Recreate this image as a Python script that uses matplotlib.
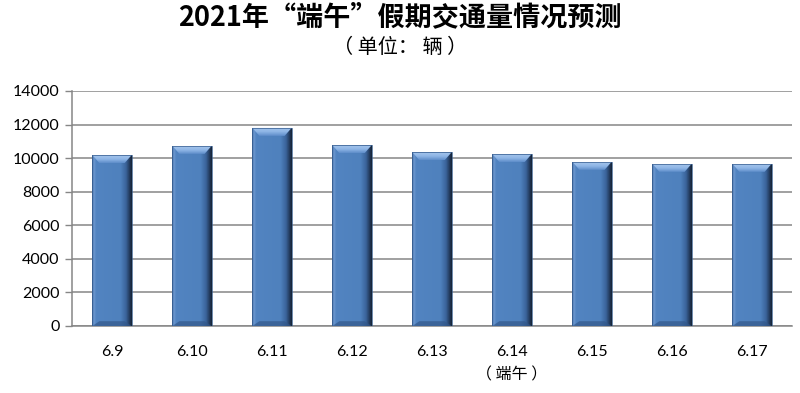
import numpy as np
import matplotlib.pyplot as plt
from matplotlib.colors import LinearSegmentedColormap
from matplotlib.patches import Polygon

plt.rcParams['font.family'] = ['Lato', 'Noto Sans CJK SC', 'DejaVu Sans']
CJK = ['Noto Sans CJK SC', 'DejaVu Sans']

# data
dates = ["6.9", "6.10", "6.11", "6.12", "6.13", "6.14", "6.15", "6.16", "6.17"]
volume = [10180, 10730, 11800, 10770, 10350, 10240, 9780, 9660, 9660]
holiday = "6.14"
holiday_note = "（ 端午 ）"
yticks = [0, 2000, 4000, 6000, 8000, 10000, 12000, 14000]

fig = plt.figure(figsize=(8, 3.93), dpi=100)
ax = fig.add_axes([0.09, 0.1705, 0.90, 0.598])

x = np.arange(len(dates))
width = 0.49
bars = ax.bar(x, volume, width=width, color="#4f81bd", edgecolor="none", zorder=3)

ax.set_xlim(-0.5, len(dates) - 0.5)
ax.set_ylim(0, 14000)
ax.set_yticks(yticks)
ax.set_xticks(x)
ax.set_xticklabels(dates, fontsize=11.5)
ax.tick_params(axis="y", labelsize=11.5, length=5, width=1, color="#868686", pad=4)
ax.tick_params(axis="x", length=0, pad=14)
ax.grid(axis="y", color="#868686", linewidth=1.1, zorder=0)
for s in ["top", "right"]:
    ax.spines[s].set_visible(False)
for s in ["left", "bottom"]:
    ax.spines[s].set_color("#868686")
    ax.spines[s].set_linewidth(1.1)

ax.annotate(holiday_note, xy=(dates.index(holiday), 0), xycoords=("data", "axes fraction"),
            xytext=(0, -35), textcoords="offset points", ha="center", va="center",
            fontsize=11.5, family=CJK)

# bevel shading for the bars
body = LinearSegmentedColormap.from_list("body", [
    (0, "#3b659c"), (0.04, "#6d98cf"), (0.1, "#5284c1"), (0.72, "#4f81bd"),
    (0.86, "#3a639a"), (0.95, "#22395a"), (1, "#162538")])
topc = LinearSegmentedColormap.from_list("topc", ["#5e8dca", "#8fb6e6", "#a4c4ec"])
bb = ax.get_window_extent()
px_x = 1.0 / (bb.width / len(dates))
px_y = 14000.0 / bb.height
bx, by = 7 * px_x, 8 * px_y
grad_h = np.linspace(0, 1, 64).reshape(1, -1)
grad_v = np.linspace(0, 1, 32).reshape(-1, 1)
for rect in bars:
    x0 = rect.get_x()
    x1 = x0 + rect.get_width()
    h = rect.get_height()
    im = ax.imshow(grad_h, extent=[x0, x1, 0, h], aspect="auto", cmap=body,
                   origin="lower", zorder=3.1)
    im.set_clip_path(rect)
    top = Polygon([(x0, h), (x1, h), (x1 - bx, h - by), (x0 + bx, h - by)],
                  closed=True, facecolor="none", edgecolor="none", zorder=3.2)
    ax.add_patch(top)
    imt = ax.imshow(grad_v, extent=[x0, x1, h - by, h], aspect="auto", cmap=topc,
                    origin="lower", zorder=3.2)
    imt.set_clip_path(top)
    ax.add_patch(Polygon([(x0, 0), (x1, 0), (x1 - bx, by * 0.6), (x0 + bx, by * 0.6)],
                         closed=True, facecolor="#33588a", alpha=0.7, edgecolor="none", zorder=3.2))
    ax.add_patch(Polygon([(x0, 0), (x0, h), (x1, h), (x1, 0)], closed=True,
                         facecolor="none", edgecolor="#345a8c", linewidth=0.5, zorder=3.4))

ax.set_xlim(-0.5, len(dates) - 0.5)
ax.set_ylim(0, 14000)

fig.text(0.5, 0.955, "2021年“端午”假期交通量情况预测", ha="center", va="center",
         fontsize=19.5, fontweight="bold", family=CJK)
fig.text(0.5, 0.88, "（ 单位： 辆 ）", ha="center", va="center", fontsize=14.5, family=CJK)

fig.savefig("out.png", dpi=100)
